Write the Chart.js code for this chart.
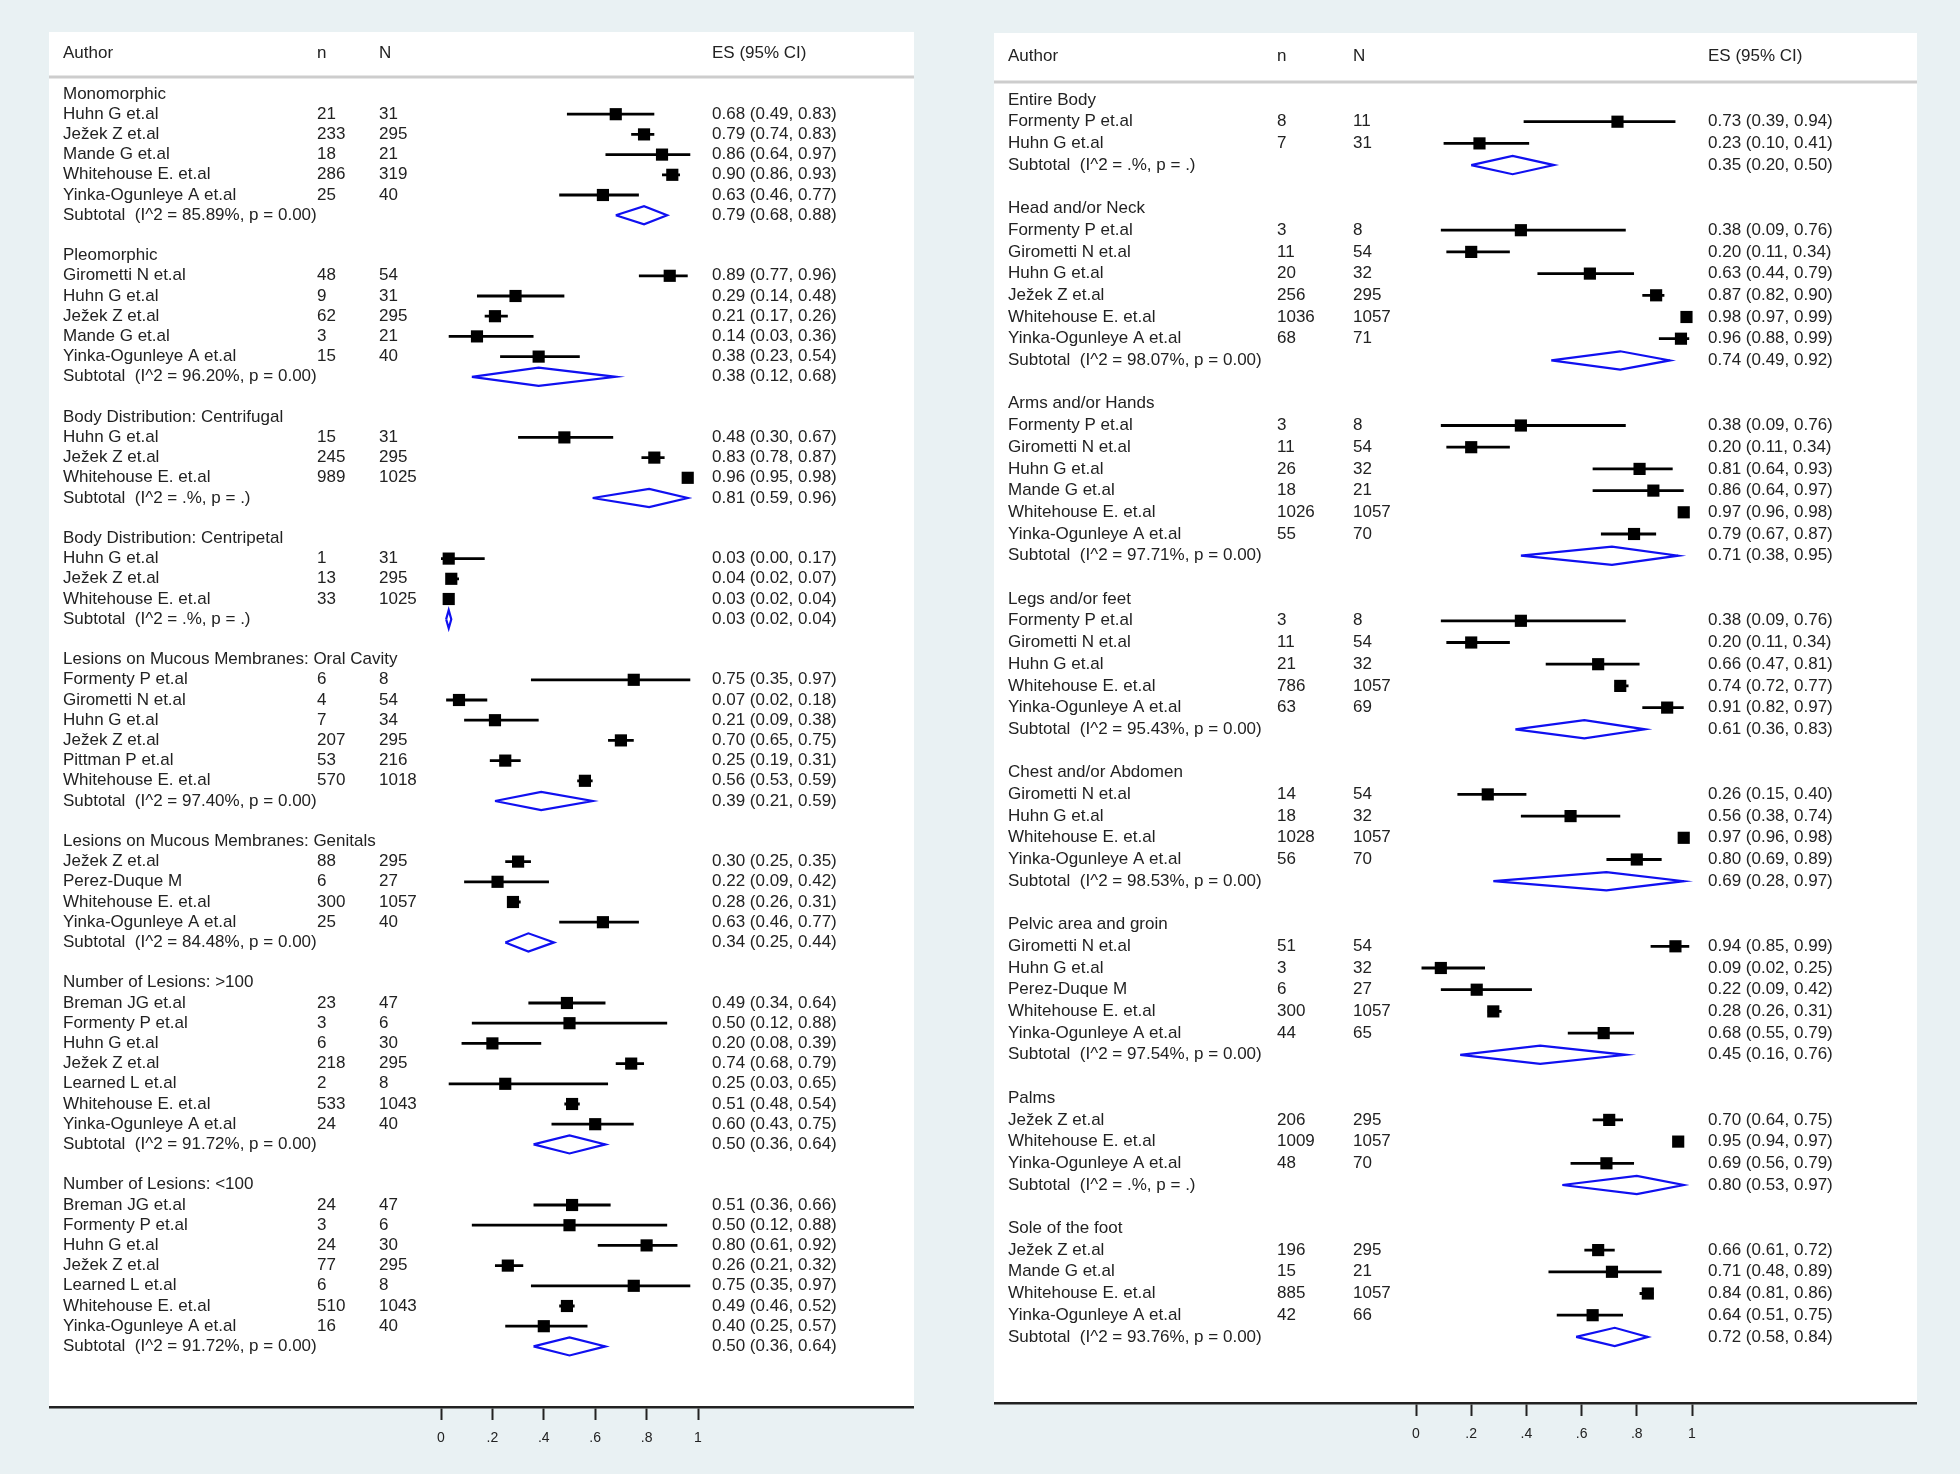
<!DOCTYPE html>
<html>
<head>
<meta charset="utf-8">
<script src="https://cdn.jsdelivr.net/npm/chart.js@4.4.0/dist/chart.umd.min.js"></script>
<style>
  html, body { margin: 0; padding: 0; background: #e9f1f3; }
  body { width: 1960px; height: 1474px; position: relative; overflow: hidden; }
  canvas { position: absolute; }
</style>
</head>
<body>
<canvas id="left" width="865" height="1442" style="left:49px;top:32px"></canvas>
<canvas id="right" width="923" height="1441" style="left:994px;top:33px"></canvas>
<script>
const axisTicks = [0, 0.2, 0.4, 0.6, 0.8, 1];
const axisLabels = ["0", ".2", ".4", ".6", ".8", "1"];

// ---- left panel ----
const leftGroups = ["Monomorphic", "Pleomorphic", "Body Distribution: Centrifugal", "Body Distribution: Centripetal",
  "Lesions on Mucous Membranes: Oral Cavity", "Lesions on Mucous Membranes: Genitals",
  "Number of Lesions: >100", "Number of Lesions: <100"];
const leftGroupSize = [5, 5, 3, 3, 6, 4, 7, 7];
const leftAuthors = [
  "Huhn G et.al", "Ježek Z et.al", "Mande G et.al", "Whitehouse E. et.al", "Yinka-Ogunleye A et.al",
  "Girometti N et.al", "Huhn G et.al", "Ježek Z et.al", "Mande G et.al", "Yinka-Ogunleye A et.al",
  "Huhn G et.al", "Ježek Z et.al", "Whitehouse E. et.al",
  "Huhn G et.al", "Ježek Z et.al", "Whitehouse E. et.al",
  "Formenty P et.al", "Girometti N et.al", "Huhn G et.al", "Ježek Z et.al", "Pittman P et.al", "Whitehouse E. et.al",
  "Ježek Z et.al", "Perez-Duque M", "Whitehouse E. et.al", "Yinka-Ogunleye A et.al",
  "Breman JG et.al", "Formenty P et.al", "Huhn G et.al", "Ježek Z et.al", "Learned L et.al", "Whitehouse E. et.al", "Yinka-Ogunleye A et.al",
  "Breman JG et.al", "Formenty P et.al", "Huhn G et.al", "Ježek Z et.al", "Learned L et.al", "Whitehouse E. et.al", "Yinka-Ogunleye A et.al"
];
const leftCases = [21, 233, 18, 286, 25, 48, 9, 62, 3, 15, 15, 245, 989, 1, 13, 33, 6, 4, 7, 207, 53, 570,
  88, 6, 300, 25, 23, 3, 6, 218, 2, 533, 24, 24, 3, 24, 77, 6, 510, 16];
const leftTotal = [31, 295, 21, 319, 40, 54, 31, 295, 21, 40, 31, 295, 1025, 31, 295, 1025, 8, 54, 34, 295, 216, 1018,
  295, 27, 1057, 40, 47, 6, 30, 295, 8, 1043, 40, 47, 6, 30, 295, 8, 1043, 40];
const leftES = [0.68, 0.79, 0.86, 0.90, 0.63, 0.89, 0.29, 0.21, 0.14, 0.38, 0.48, 0.83, 0.96, 0.03, 0.04, 0.03,
  0.75, 0.07, 0.21, 0.70, 0.25, 0.56, 0.30, 0.22, 0.28, 0.63, 0.49, 0.50, 0.20, 0.74, 0.25, 0.51, 0.60,
  0.51, 0.50, 0.80, 0.26, 0.75, 0.49, 0.40];
const leftLo = [0.49, 0.74, 0.64, 0.86, 0.46, 0.77, 0.14, 0.17, 0.03, 0.23, 0.30, 0.78, 0.95, 0.00, 0.02, 0.02,
  0.35, 0.02, 0.09, 0.65, 0.19, 0.53, 0.25, 0.09, 0.26, 0.46, 0.34, 0.12, 0.08, 0.68, 0.03, 0.48, 0.43,
  0.36, 0.12, 0.61, 0.21, 0.35, 0.46, 0.25];
const leftHi = [0.83, 0.83, 0.97, 0.93, 0.77, 0.96, 0.48, 0.26, 0.36, 0.54, 0.67, 0.87, 0.98, 0.17, 0.07, 0.04,
  0.97, 0.18, 0.38, 0.75, 0.31, 0.59, 0.35, 0.42, 0.31, 0.77, 0.64, 0.88, 0.39, 0.79, 0.65, 0.54, 0.75,
  0.66, 0.88, 0.92, 0.32, 0.97, 0.52, 0.57];
const leftSubES = [0.79, 0.38, 0.81, 0.03, 0.39, 0.34, 0.50, 0.50];
const leftSubLo = [0.68, 0.12, 0.59, 0.02, 0.21, 0.25, 0.36, 0.36];
const leftSubHi = [0.88, 0.68, 0.96, 0.04, 0.59, 0.44, 0.64, 0.64];
const leftI2 = ["85.89", "96.20", ".", ".", "97.40", "84.48", "91.72", "91.72"];
const leftP = ["0.00", "0.00", ".", ".", "0.00", "0.00", "0.00", "0.00"];

// ---- right panel ----
const rightGroups = ["Entire Body", "Head and/or Neck", "Arms and/or Hands", "Legs and/or feet",
  "Chest and/or Abdomen", "Pelvic area and groin", "Palms", "Sole of the foot"];
const rightGroupSize = [2, 6, 6, 5, 4, 5, 3, 4];
const rightAuthors = [
  "Formenty P et.al", "Huhn G et.al",
  "Formenty P et.al", "Girometti N et.al", "Huhn G et.al", "Ježek Z et.al", "Whitehouse E. et.al", "Yinka-Ogunleye A et.al",
  "Formenty P et.al", "Girometti N et.al", "Huhn G et.al", "Mande G et.al", "Whitehouse E. et.al", "Yinka-Ogunleye A et.al",
  "Formenty P et.al", "Girometti N et.al", "Huhn G et.al", "Whitehouse E. et.al", "Yinka-Ogunleye A et.al",
  "Girometti N et.al", "Huhn G et.al", "Whitehouse E. et.al", "Yinka-Ogunleye A et.al",
  "Girometti N et.al", "Huhn G et.al", "Perez-Duque M", "Whitehouse E. et.al", "Yinka-Ogunleye A et.al",
  "Ježek Z et.al", "Whitehouse E. et.al", "Yinka-Ogunleye A et.al",
  "Ježek Z et.al", "Mande G et.al", "Whitehouse E. et.al", "Yinka-Ogunleye A et.al"
];
const rightCases = [8, 7, 3, 11, 20, 256, 1036, 68, 3, 11, 26, 18, 1026, 55, 3, 11, 21, 786, 63,
  14, 18, 1028, 56, 51, 3, 6, 300, 44, 206, 1009, 48, 196, 15, 885, 42];
const rightTotal = [11, 31, 8, 54, 32, 295, 1057, 71, 8, 54, 32, 21, 1057, 70, 8, 54, 32, 1057, 69,
  54, 32, 1057, 70, 54, 32, 27, 1057, 65, 295, 1057, 70, 295, 21, 1057, 66];
const rightES = [0.73, 0.23, 0.38, 0.20, 0.63, 0.87, 0.98, 0.96, 0.38, 0.20, 0.81, 0.86, 0.97, 0.79,
  0.38, 0.20, 0.66, 0.74, 0.91, 0.26, 0.56, 0.97, 0.80, 0.94, 0.09, 0.22, 0.28, 0.68,
  0.70, 0.95, 0.69, 0.66, 0.71, 0.84, 0.64];
const rightLo = [0.39, 0.10, 0.09, 0.11, 0.44, 0.82, 0.97, 0.88, 0.09, 0.11, 0.64, 0.64, 0.96, 0.67,
  0.09, 0.11, 0.47, 0.72, 0.82, 0.15, 0.38, 0.96, 0.69, 0.85, 0.02, 0.09, 0.26, 0.55,
  0.64, 0.94, 0.56, 0.61, 0.48, 0.81, 0.51];
const rightHi = [0.94, 0.41, 0.76, 0.34, 0.79, 0.90, 0.99, 0.99, 0.76, 0.34, 0.93, 0.97, 0.98, 0.87,
  0.76, 0.34, 0.81, 0.77, 0.97, 0.40, 0.74, 0.98, 0.89, 0.99, 0.25, 0.42, 0.31, 0.79,
  0.75, 0.97, 0.79, 0.72, 0.89, 0.86, 0.75];
const rightSubES = [0.35, 0.74, 0.71, 0.61, 0.69, 0.45, 0.80, 0.72];
const rightSubLo = [0.20, 0.49, 0.38, 0.36, 0.28, 0.16, 0.53, 0.58];
const rightSubHi = [0.50, 0.92, 0.95, 0.83, 0.97, 0.76, 0.97, 0.84];
const rightI2 = [".", "98.07", "97.71", "95.43", "98.53", "97.54", ".", "93.76"];
const rightP = [".", "0.00", "0.00", "0.00", "0.00", "0.00", ".", "0.00"];

const FONT = '"Liberation Sans", Arial, sans-serif';
const TEXT = '#222';

// header row, study rows, subtotal row, then one blank row per group
function layoutRows(sizes) {
  const head = [], study = [], sub = [];
  let r = 0;
  sizes.forEach(k => {
    head.push(r);
    for (let i = 1; i <= k; i++) study.push(r + i);
    sub.push(r + k + 1);
    r += k + 3;
  });
  return { head, study, sub };
}

const fmt = v => v.toFixed(2);

function makeForest(id, p) {
  const rows = layoutRows(p.sizes);

  const boxes = p.es.map((v, i) => ({ x: v, y: rows.study[i] }));
  const ci = [];
  p.lo.forEach((lo, i) => {
    const r = rows.study[i];
    ci.push({ x: lo, y: r }, { x: p.hi[i], y: r }, { x: p.hi[i], y: null });
  });
  const dia = [];
  p.subES.forEach((es, g) => {
    const r = rows.sub[g];
    dia.push({ x: p.subLo[g], y: r }, { x: es, y: r - p.dh }, { x: p.subHi[g], y: r },
      { x: es, y: r + p.dh }, { x: p.subLo[g], y: r }, { x: es, y: null });
  });

  const forestText = {
    id: 'forestText',
    beforeDraw(chart) {
      const { ctx, chartArea: a } = chart;
      ctx.save();
      ctx.fillStyle = '#ffffff';
      ctx.fillRect(a.left, a.top, a.right - a.left, a.bottom - a.top);
      const ly = chart.scales.y.getPixelForValue(p.lineRow);
      ctx.strokeStyle = '#cdcdcd';
      ctx.lineWidth = 3;
      ctx.beginPath();
      ctx.moveTo(a.left, ly);
      ctx.lineTo(a.right, ly);
      ctx.stroke();
      ctx.restore();
    },
    afterDatasetsDraw(chart) {
      const ctx = chart.ctx;
      const ys = chart.scales.y;
      const c = p.cols;
      ctx.save();
      ctx.font = '17px ' + FONT;
      ctx.fillStyle = TEXT;
      ctx.textBaseline = 'middle';
      ctx.textAlign = 'left';
      const hy = ys.getPixelForValue(-2);
      ctx.fillText('Author', c.author, hy);
      ctx.fillText('n', c.n, hy);
      ctx.fillText('N', c.N, hy);
      ctx.fillText('ES (95% CI)', c.es, hy);
      p.groups.forEach((g, i) => ctx.fillText(g, c.author, ys.getPixelForValue(rows.head[i])));
      p.authors.forEach((a, i) => {
        const y = ys.getPixelForValue(rows.study[i]);
        ctx.fillText(a, c.author, y);
        ctx.fillText(String(p.cases[i]), c.n, y);
        ctx.fillText(String(p.total[i]), c.N, y);
        ctx.fillText(fmt(p.es[i]) + ' (' + fmt(p.lo[i]) + ', ' + fmt(p.hi[i]) + ')', c.es, y);
      });
      p.subES.forEach((es, g) => {
        const y = ys.getPixelForValue(rows.sub[g]);
        ctx.fillText('Subtotal  (I^2 = ' + p.i2[g] + '%, p = ' + p.pv[g] + ')', c.author, y);
        ctx.fillText(fmt(es) + ' (' + fmt(p.subLo[g]) + ', ' + fmt(p.subHi[g]) + ')', c.es, y);
      });
      ctx.restore();
    }
  };

  new Chart(document.getElementById(id), {
    type: 'scatter',
    data: {
      datasets: [
        { data: boxes, pointStyle: 'rect', pointRadius: 8.6, pointHoverRadius: 8.6,
          backgroundColor: '#000', borderColor: '#000', borderWidth: 0 },
        { data: ci, showLine: true, borderColor: '#000', borderWidth: 2.8, pointRadius: 0,
          spanGaps: false },
        { data: dia, showLine: true, borderColor: '#1010f0', borderWidth: 2.2, pointRadius: 0,
          spanGaps: false, fill: false, borderJoinStyle: 'miter' }
      ]
    },
    options: {
      responsive: false,
      animation: false,
      events: [],
      layout: { padding: 0, autoPadding: false },
      plugins: { legend: { display: false }, tooltip: { enabled: false } },
      scales: {
        x: {
          type: 'linear',
          min: p.xMin,
          max: p.xMax,
          afterBuildTicks: s => { s.ticks = axisTicks.map(v => ({ value: v })); },
          afterFit: s => { s.height = p.axisH; },
          ticks: {
            color: TEXT,
            padding: 10,
            font: { family: FONT, size: 14 },
            callback: v => axisLabels[axisTicks.indexOf(v)]
          },
          grid: { drawOnChartArea: false, drawTicks: true, tickLength: 13, tickColor: '#222', tickWidth: 2 },
          border: { display: true, color: '#222', width: 2.5 }
        },
        y: {
          type: 'linear',
          reverse: true,
          min: p.yMin,
          max: p.yMax,
          display: false
        }
      }
    },
    plugins: [forestText]
  });
}

makeForest('left', {
  groups: leftGroups, sizes: leftGroupSize, authors: leftAuthors, cases: leftCases, total: leftTotal,
  es: leftES, lo: leftLo, hi: leftHi, subES: leftSubES, subLo: leftSubLo, subHi: leftSubHi,
  i2: leftI2, pv: leftP,
  xMin: -392 / 257, xMax: 473 / 257, yMin: -62 / 20.2, yMax: -62 / 20.2 + 1375 / 20.2,
  axisH: 67, dh: 0.45, lineRow: -0.84,
  cols: { author: 14, n: 268, N: 330, es: 663 }
});

makeForest('right', {
  groups: rightGroups, sizes: rightGroupSize, authors: rightAuthors, cases: rightCases, total: rightTotal,
  es: rightES, lo: rightLo, hi: rightHi, subES: rightSubES, subLo: rightSubLo, subHi: rightSubHi,
  i2: rightI2, pv: rightP,
  xMin: -422 / 276, xMax: 501 / 276, yMin: -67 / 21.7, yMax: -67 / 21.7 + 1370 / 21.7,
  axisH: 71, dh: 0.42, lineRow: -0.83,
  cols: { author: 14, n: 283, N: 359, es: 714 }
});
</script>
</body>
</html>
